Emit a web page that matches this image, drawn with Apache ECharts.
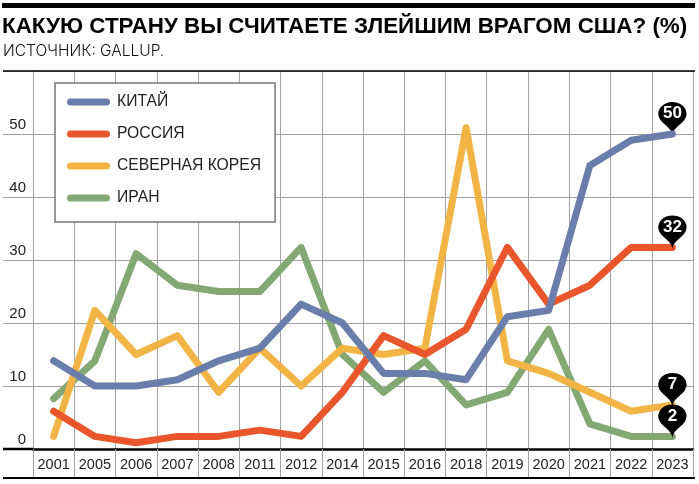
<!DOCTYPE html>
<html>
<head>
<meta charset="utf-8">
<script src="https://cdn.jsdelivr.net/npm/echarts@6/dist/echarts.min.js"></script>
<style>html,body{margin:0;padding:0;background:#fff}#c{width:699px;height:484px}</style>
</head>
<body>
<div id="c"></div>
<script>
const years = ['2001','2005','2006','2007','2008','2011','2012','2014','2015','2016','2018','2019','2020','2021','2022','2023'];
const china = [14,10,10,11,14,16,23,20,12,12,11,21,22,45,49,50];
const russia = [6,2,1,2,2,3,2,9,18,15,19,32,23,26,32,32];
const northKorea = [2,22,15,18,9,16,10,16,15,16,51,14,12,9,6,7];
const iran = [8,14,31,26,25,25,32,15,9,14,7,9,19,4,2,2];
const names = ['КИТАЙ','РОССИЯ','СЕВЕРНАЯ КОРЕЯ','ИРАН'];
const colors = ['#6b7eab','#e9562b','#f2b445','#84a874'];
const yTicks = [0,10,20,30,40,50];

const chart = echarts.init(document.getElementById('c'));
const font = 'Liberation Sans, Arial, sans-serif';
const gridColor = '#a3a3a3';

function mkSeries(name, data, color, z) {
  const last = data.length - 1;
  return {
    name: name, type: 'line', data: data, symbol: 'none', z: z,
    lineStyle: { width: 7, color: color, cap: 'round', join: 'round' },
    itemStyle: { color: color },
    emphasis: { disabled: true },
    markPoint: {
      symbol: 'pin', symbolSize: [47, 39], symbolOffset: [0, 2],
      itemStyle: { color: '#000' },
      label: { show: true, color: '#fff', fontFamily: font, fontWeight: 'bold', fontSize: 17, offset: [0, -2] },
      data: [{ coord: [years[last], data[last]], value: data[last] }]
    }
  };
}

chart.setOption({
  animation: false,
  title: [
    { text: 'КАКУЮ СТРАНУ ВЫ СЧИТАЕТЕ ЗЛЕЙШИМ ВРАГОМ США? (%)', left: 2, top: 16, padding: 0,
      textStyle: { fontFamily: font, fontWeight: 'bold', fontSize: 22.4, color: '#000' } },
    { text: 'ИСТОЧНИК: GALLUP.', left: 3, top: 43, padding: 0,
      textStyle: { fontFamily: 'Inter, sans-serif', fontWeight: 300, fontSize: 15.5, color: '#111' } }
  ],
  legend: {
    data: names, orient: 'vertical', left: 55, top: 83,
    padding: [10, 14, 15, 12], itemGap: 14,
    itemWidth: 43, itemHeight: 7,
    icon: 'path://M3.5,0 L39.5,0 A3.5,3.5 0 0 1 39.5,7 L3.5,7 A3.5,3.5 0 0 1 3.5,0 Z',
    backgroundColor: '#fff', borderColor: '#777', borderWidth: 1.5, borderRadius: 0,
    textStyle: { fontFamily: font, fontSize: 15.7, color: '#222', lineHeight: 18, padding: [0, 0, 0, 2] }
  },
  grid: { left: 33, right: 6, top: 71, bottom: 35, containLabel: false },
  xAxis: {
    type: 'category', data: years, boundaryGap: true,
    axisLine: { show: true, lineStyle: { color: '#000', width: 2.5 } },
    axisTick: { show: true, length: 29, lineStyle: { color: gridColor, width: 1 } },
    splitLine: { show: true, lineStyle: { color: gridColor, width: 1 } },
    axisLabel: { interval: 0, margin: 8, fontFamily: font, fontSize: 14.5, color: '#222' }
  },
  yAxis: {
    type: 'value', min: 0, max: 60, interval: 10,
    axisLine: { show: true, lineStyle: { color: gridColor, width: 1 } },
    axisTick: { show: true, length: 30, lineStyle: { color: gridColor, width: 1 } },
    splitLine: { show: true, lineStyle: { color: gridColor, width: 1 } },
    axisLabel: {
      margin: 7, align: 'right', verticalAlign: 'bottom', padding: [0, 0, 2, 0],
      fontFamily: font, fontSize: 15, color: '#222',
      formatter: function (v) { return yTicks.indexOf(v) >= 0 ? String(v) : ''; }
    }
  },
  graphic: [
    { type: 'rect', shape: { x: 2, y: 3, width: 693, height: 5 }, style: { fill: '#000' }, silent: true },
    { type: 'line', shape: { x1: 3, y1: 71, x2: 695, y2: 71 }, style: { stroke: '#000', lineWidth: 1.5 }, silent: true, z: 10 },
    { type: 'line', shape: { x1: 3, y1: 449, x2: 33, y2: 449 }, style: { stroke: '#000', lineWidth: 2.5 }, silent: true, z: 10 },
    { type: 'line', shape: { x1: 3, y1: 478, x2: 695, y2: 478 }, style: { stroke: '#000', lineWidth: 2 }, silent: true, z: 10 }
  ],
  series: [
    mkSeries(names[3], iran, colors[3], 2),
    mkSeries(names[2], northKorea, colors[2], 3),
    mkSeries(names[1], russia, colors[1], 4),
    mkSeries(names[0], china, colors[0], 5)
  ]
});
</script>
</body>
</html>
